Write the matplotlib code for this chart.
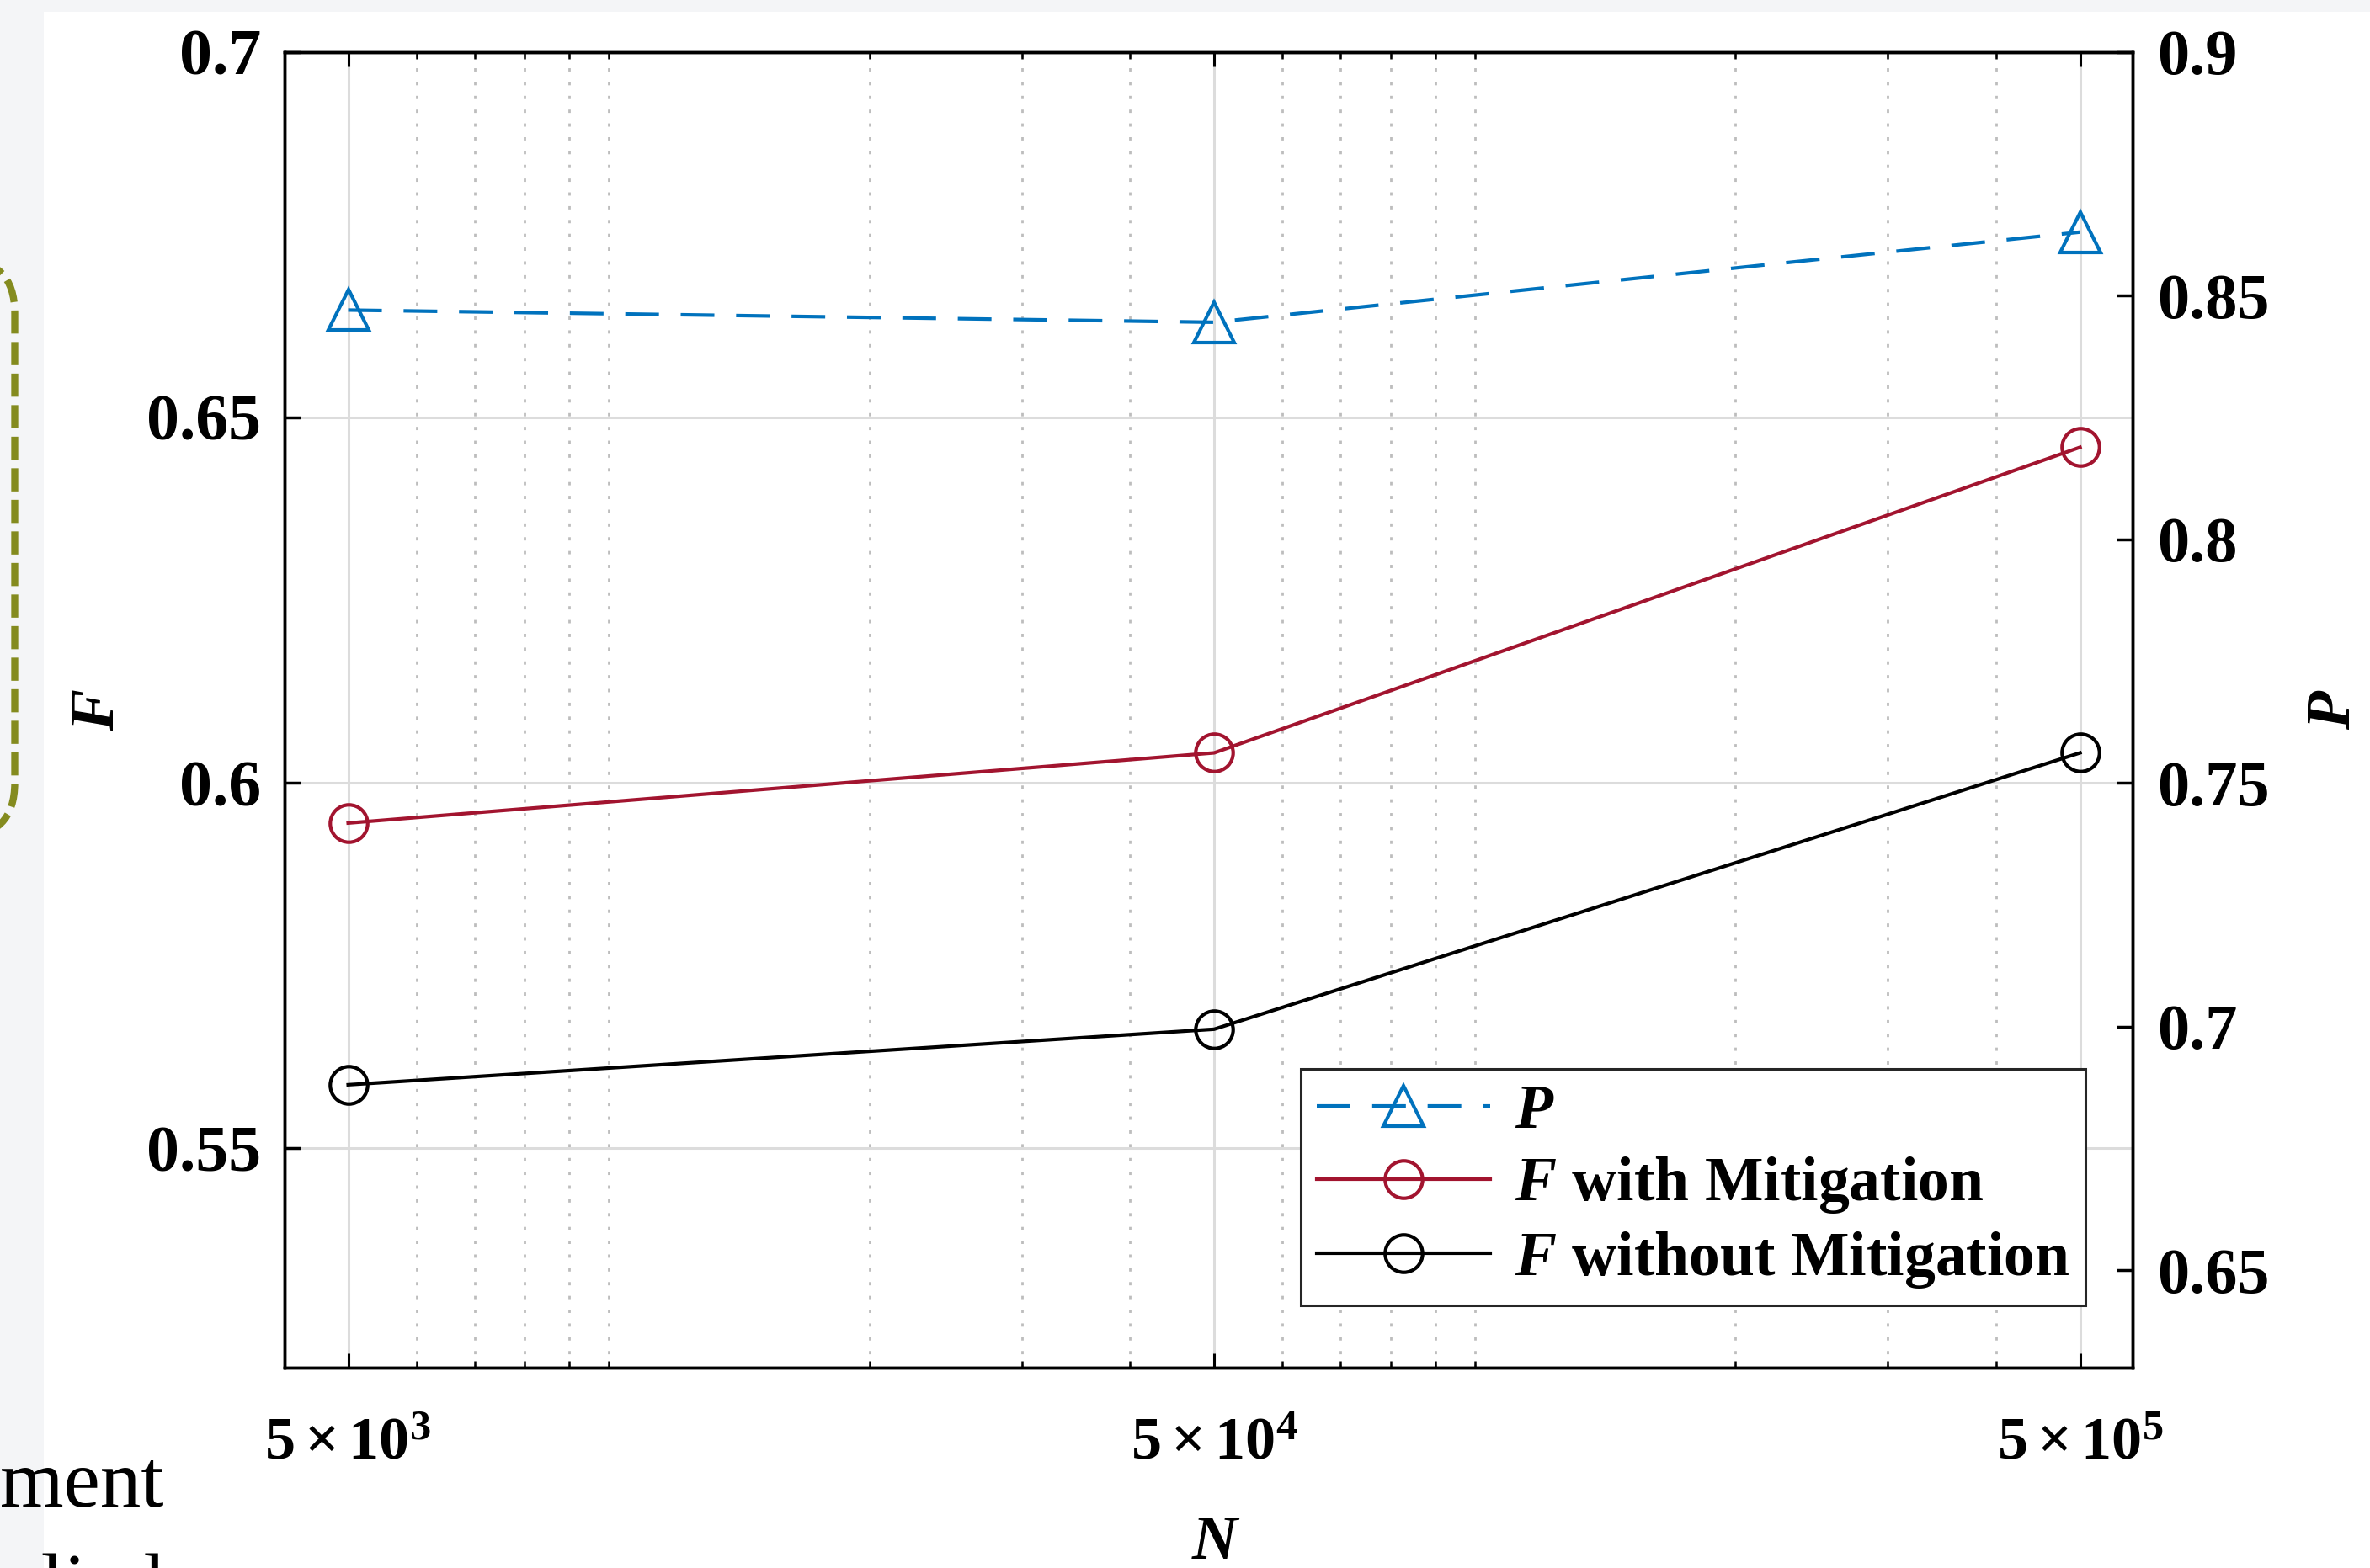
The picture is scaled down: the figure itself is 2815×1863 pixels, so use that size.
import matplotlib
matplotlib.use("Agg")
import numpy as np
import matplotlib.pyplot as plt
from matplotlib.patches import Rectangle, FancyBboxPatch
from matplotlib.ticker import LogLocator, NullFormatter

# data
n_values = [5e3, 5e4, 5e5]
x_tick_labels = [r'$\mathbf{5\times10^{3}}$', r'$\mathbf{5\times10^{4}}$', r'$\mathbf{5\times10^{5}}$']
p_values = [0.847, 0.8445, 0.863]
f_with = [0.5945, 0.6041, 0.6459]
f_without = [0.5587, 0.5663, 0.6041]
left_ticks = [0.55, 0.6, 0.65, 0.7]
left_tick_labels = ['0.55', '0.6', '0.65', '0.7']
right_ticks = [0.65, 0.7, 0.75, 0.8, 0.85, 0.9]
right_tick_labels = ['0.65', '0.7', '0.75', '0.8', '0.85', '0.9']
legend_labels = [r'$\mathbfit{P}$', r'$\mathbfit{F}$ with Mitigation', r'$\mathbfit{F}$ without Mitigation']

plt.rcParams['font.family'] = ['Liberation Serif', 'DejaVu Serif']
plt.rcParams['font.weight'] = 'bold'
plt.rcParams['mathtext.fontset'] = 'custom'
plt.rcParams['mathtext.rm'] = 'Liberation Serif:bold'
plt.rcParams['mathtext.bf'] = 'Liberation Serif:bold'
plt.rcParams['mathtext.it'] = 'Liberation Serif:italic:bold'
plt.rcParams['mathtext.bfit'] = 'Liberation Serif:italic:bold'

W, H = 2815, 1863
fig = plt.figure(figsize=(W / 100, H / 100), dpi=100, facecolor='#f4f5f7')

# white page area of the screenshot
fig.patches.append(Rectangle((52 / W, 0), 1, 1 - 14 / H, transform=fig.transFigure,
                             facecolor='white', edgecolor='none', zorder=-10))
# dashed olive box cut off at the left edge
box = FancyBboxPatch((-3.0, (H - 994) / 100), 3.175, (994 - 308) / 100,
                     boxstyle='round,pad=0,rounding_size=0.64', transform=fig.dpi_scale_trans,
                     facecolor='none', edgecolor='#848b1f', linewidth=6,
                     linestyle=(0, (3.3, 1.2)), zorder=-5)
fig.patches.append(box)
# fragments of the surrounding page text
fig.text(0.0, 73 / H, 'ment', fontsize=70, fontweight='normal', ha='left', va='baseline')
fig.text(0.0, -50 / H, 'plied', fontsize=70, fontweight='normal', ha='left', va='baseline')

ax1 = fig.add_axes([338 / W, (H - 1625) / H, 2195 / W, 1563.5 / H])
ax1.set_facecolor('white')
ax1.set_xscale('log')
ax1.set_xlim(4222, 5.75e5)
ax1.set_ylim(0.52, 0.70)

ax2 = ax1.twinx()
ax2.set_ylim(0.63, 0.90)

# gridlines
ax1.set_axisbelow(True)
ax1.grid(True, which='major', axis='both', color='#dcdcdc', linewidth=2.2, linestyle='-')
ax1.xaxis.set_minor_locator(LogLocator(base=10, subs=np.arange(1, 10)))
ax1.xaxis.set_minor_formatter(NullFormatter())
ax1.grid(True, which='minor', axis='x', color='#bdbdbd', linewidth=2.0, linestyle=(0, (1.4, 4.5)))

# lines
lw = 3.0
l_fw, = ax1.plot(n_values, f_with, color='#A2142F', linewidth=lw, marker='o', markersize=32,
                 markerfacecolor='none', markeredgewidth=lw)
l_fwo, = ax1.plot(n_values, f_without, color='black', linewidth=lw, marker='o', markersize=32,
                  markerfacecolor='none', markeredgewidth=lw)
l_p, = ax2.plot(n_values, p_values, color='#0072BD', linewidth=lw, dashes=(9.6, 6.2), marker='^',
                markersize=35, markerfacecolor='none', markeredgewidth=lw)

# ticks
ax1.set_xticks(n_values)
ax1.set_xticklabels(x_tick_labels, fontsize=52)
ax1.set_yticks(left_ticks)
ax1.set_yticklabels(left_tick_labels, fontsize=56, fontweight='bold')
ax2.set_yticks(right_ticks)
ax2.set_yticklabels(right_tick_labels, fontsize=55, fontweight='bold')

ax1.tick_params(axis='x', which='major', direction='in', top=True, bottom=True, length=12, width=2.2, pad=42)
ax1.tick_params(axis='x', which='minor', direction='in', top=True, bottom=True, length=6, width=1.8)
ax1.tick_params(axis='y', direction='in', left=True, right=False, length=14, width=2.5, pad=20)
ax2.tick_params(axis='y', direction='in', right=True, left=False, length=14, width=2.5, pad=21)
ax2.tick_params(axis='x', which='both', top=False, bottom=False)

for ax in (ax1, ax2):
    for sp in ax.spines.values():
        sp.set_linewidth(2.5)
        sp.set_color('black')

# axis labels
ax1.set_ylabel(r'$\mathbfit{F}$', fontsize=54)
ax1.yaxis.set_label_coords(-0.085, 0.5)
ax2.set_ylabel(r'$\mathbfit{P}$', fontsize=54, rotation=90)
ax2.yaxis.set_label_coords(1.094, 0.5)
ax1.set_xlabel(r'$\mathbfit{N}$', fontsize=54)
ax1.xaxis.set_label_coords(0.504, -0.112)

# legend
leg = ax2.legend([l_p, l_fw, l_fwo], legend_labels, loc='lower right',
                 bbox_to_anchor=(0.9745, 0.0473), borderaxespad=0,
                 prop={'family': 'Liberation Serif', 'weight': 'bold', 'size': 53},
                 handlelength=2.8, handletextpad=0.4, borderpad=0.25, labelspacing=0.22,
                 numpoints=1, fancybox=False, framealpha=1, edgecolor='#262626')
leg.get_frame().set_linewidth(2.2)

fig.savefig('out.png', dpi=100, facecolor=fig.get_facecolor())
